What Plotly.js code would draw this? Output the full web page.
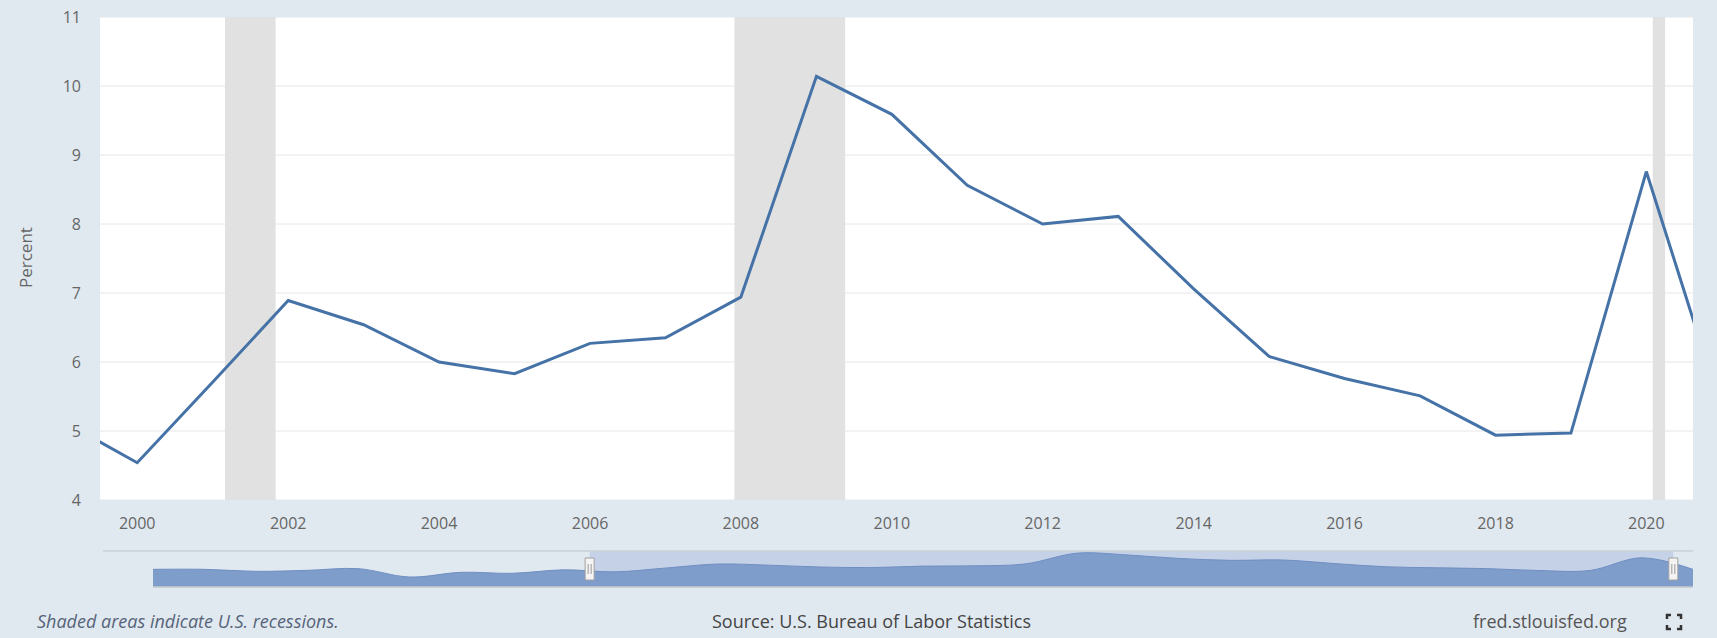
<!DOCTYPE html>
<html><head><meta charset="utf-8">
<script src="https://cdn.plot.ly/plotly-3.0.1.min.js"></script>
<style>html,body{margin:0;padding:0;background:#e1e9f0;}#chart{width:1717px;height:638px;}</style>
</head><body><div id="chart"></div>
<script>
// ---- data ----
const years = ['1999-01-01','2000-01-01','2001-01-01','2002-01-01','2003-01-01','2004-01-01','2005-01-01','2006-01-01','2007-01-01','2008-01-01','2009-01-01','2010-01-01','2011-01-01','2012-01-01','2013-01-01','2014-01-01','2015-01-01','2016-01-01','2017-01-01','2018-01-01','2019-01-01','2020-01-01','2021-01-01'];
const percent = [5.15,4.54,5.71,6.89,6.54,6.0,5.83,6.27,6.35,6.94,10.14,9.59,8.56,8.0,8.11,7.06,6.08,5.76,5.51,4.94,4.97,8.76,5.3];
const earlyYears = ['1991-01-01','1992-01-01','1993-01-01','1994-01-01','1995-01-01','1996-01-01','1997-01-01','1998-01-01'];
const earlyPercent = [5.3,5.3,4.7,5.0,5.5,3.0,4.4,4.1];
const recessionStart = ['2001-03-01','2007-12-01','2020-02-01'];
const recessionEnd = ['2001-11-01','2009-05-20','2020-04-01'];
const viewStart = '1999-07-05';
const viewEnd = '2020-08-14';
const navStart = '1991-01-01';
const navEnd = '2021-01-01';
const yTickVals = [4,5,6,7,8,9,10,11];

// ---- layout helpers (page pixels -> paper coords) ----
const W = 1717, H = 638;
const M = {l:100, r:24, t:17, b:51};
const PW = W - M.l - M.r, PH = H - M.t - M.b;
const px = x => (x - M.l) / PW;
const py = y => (H - M.b - y) / PH;

const font = 'Open Sans, sans-serif';
const tickFont = {family: font, size: 16, color: '#666666'};

const traces = [
  {x: years, y: percent, type: 'scatter', mode: 'lines', xaxis: 'x', yaxis: 'y',
   line: {color: '#4572a7', width: 3}, hoverinfo: 'x+y'},
  {x: earlyYears.concat(years), y: earlyPercent.concat(percent), type: 'scatter', mode: 'lines',
   xaxis: 'x2', yaxis: 'y2', fill: 'tozeroy', fillcolor: '#7f9dca',
   line: {color: '#6f8ec2', width: 1, shape: 'spline', smoothing: 1}, hoverinfo: 'skip'}
];

const shapes = [];
// white plot area
shapes.push({type:'rect', xref:'x domain', yref:'y domain', x0:0, x1:1, y0:0, y1:1,
  fillcolor:'#ffffff', line:{width:0}, layer:'below'});
// horizontal grid lines
yTickVals.forEach(v => shapes.push({type:'line', xref:'x domain', yref:'y', x0:0, x1:1, y0:v, y1:v,
  line:{color:'#e6e6e6', width:1}, layer:'below'}));
// recessions
recessionStart.forEach((s,i) => shapes.push({type:'rect', xref:'x', yref:'y domain',
  x0:s, x1:recessionEnd[i], y0:0, y1:1, fillcolor:'#e1e1e1', line:{width:0}, layer:'below'}));
// navigator selected region
shapes.push({type:'rect', xref:'x2', yref:'y2 domain', x0:viewStart, x1:viewEnd, y0:0, y1:1,
  fillcolor:'#c5d1e7', line:{width:0}, layer:'below'});
// navigator outline
shapes.push({type:'line', xref:'paper', yref:'paper', x0:px(103), x1:1, y0:py(551), y1:py(551),
  line:{color:'#c9d0d9', width:1.5}});
shapes.push({type:'line', xref:'paper', yref:'paper', x0:px(153), x1:1, y0:0, y1:0,
  line:{color:'#c4c8cc', width:1.5}});
// handles
[viewStart, viewEnd].forEach(d => {
  shapes.push({type:'rect', xref:'x2', xsizemode:'pixel', xanchor:d, x0:-4.5, x1:4.5,
    yref:'paper', ysizemode:'pixel', yanchor:py(569), y0:-11, y1:11,
    fillcolor:'#f4f4f4', line:{color:'#a0a0a0', width:1}});
  [-1.5, 1.5].forEach(o => shapes.push({type:'line', xref:'x2', xsizemode:'pixel', xanchor:d, x0:o, x1:o,
    yref:'paper', ysizemode:'pixel', yanchor:py(569), y0:-5, y1:5, line:{color:'#999999', width:1}}));
});
// fullscreen icon (four corners)
const cx = 1674, cy = 622, hs = 7, arm = 4;
const corners = [[-1,-1],[1,-1],[-1,1],[1,1]];
corners.forEach(([sx,sy]) => {
  const x0 = cx + sx*hs, y0 = cy + sy*hs;
  const path = `M ${px(x0 - sx*arm)} ${py(y0)} L ${px(x0)} ${py(y0)} L ${px(x0)} ${py(y0 - sy*arm)}`;
  shapes.push({type:'path', xref:'paper', yref:'paper', path:path, line:{color:'#333333', width:2.5}});
});

const annotations = [
  {text:'Percent', xref:'paper', yref:'paper', x:px(25), y:py(258), textangle:-90,
   showarrow:false, xanchor:'center', yanchor:'middle', font:{family:font, size:17, color:'#666666'}},
  {text:'<i>Shaded areas indicate U.S. recessions.</i>', xref:'paper', yref:'paper', x:px(35), y:py(621),
   showarrow:false, xanchor:'left', yanchor:'middle', font:{family:font, size:18, color:'#56647a'}},
  {text:'Source: U.S. Bureau of Labor Statistics', xref:'paper', yref:'paper', x:px(871), y:py(621),
   showarrow:false, xanchor:'center', yanchor:'middle', font:{family:font, size:18, color:'#444444'}},
  {text:'fred.stlouisfed.org', xref:'paper', yref:'paper', x:px(1550), y:py(621),
   showarrow:false, xanchor:'center', yanchor:'middle', font:{family:font, size:18, color:'#555555'}}
];

const layout = {
  width: W, height: H,
  margin: M,
  paper_bgcolor: '#e1e9f0',
  plot_bgcolor: '#e1e9f0',
  showlegend: false,
  xaxis: {type:'date', range:[viewStart, viewEnd], domain:[0,1], anchor:'y',
    tickformat:'%Y', tick0:'2000-01-01', dtick:'M24', showgrid:false, zeroline:false,
    showline:false, ticks:'', tickfont:tickFont, ticklabelstandoff:12, fixedrange:true},
  yaxis: {range:[4,11], domain:[py(500), 1], anchor:'x', tickvals:yTickVals,
    showgrid:false, zeroline:false, showline:false,
    ticks:'', tickfont:tickFont, ticklabelstandoff:18, fixedrange:true},
  xaxis2: {type:'date', range:[navStart, navEnd], domain:[px(153), 1], anchor:'y2',
    visible:false, fixedrange:true},
  yaxis2: {range:[0, 10.8], domain:[0, py(551)], anchor:'x2', visible:false, fixedrange:true},
  shapes: shapes,
  annotations: annotations
};

Plotly.newPlot('chart', traces, layout, {displayModeBar:false});
</script>
</body></html>
